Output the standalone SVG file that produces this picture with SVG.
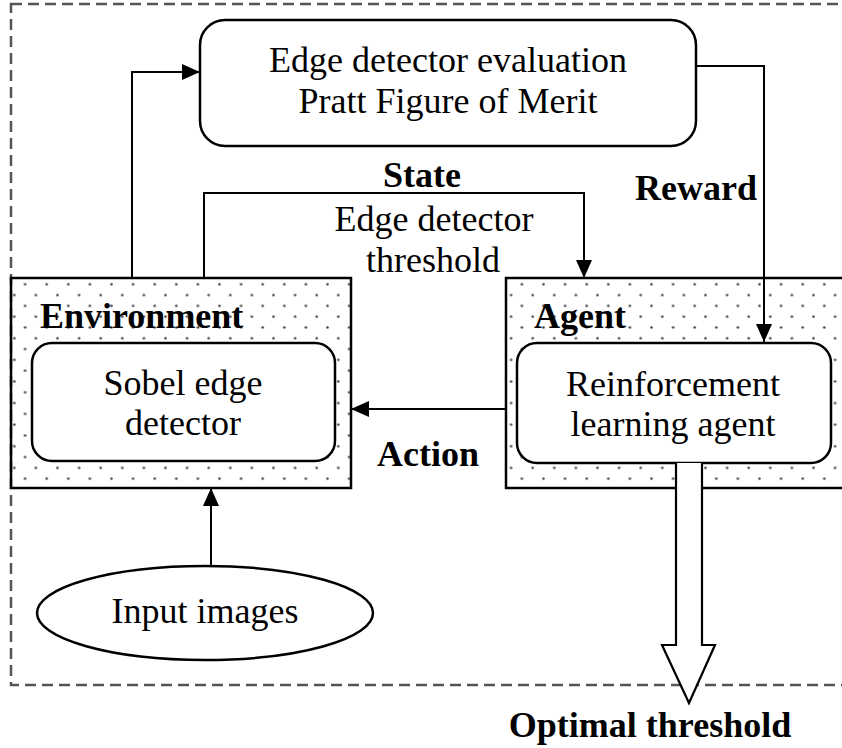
<svg xmlns="http://www.w3.org/2000/svg" width="842" height="748" viewBox="0 0 842 748">
<defs>
<pattern id="dots" patternUnits="userSpaceOnUse" width="21.6" height="21.6" x="2" y="2">
<circle cx="1.5" cy="1.5" r="1.3" fill="#444"/>
<circle cx="12.3" cy="12.3" r="1.3" fill="#444"/>
</pattern>
<marker id="ah" markerUnits="userSpaceOnUse" markerWidth="18" markerHeight="16" refX="18" refY="8" orient="auto">
<path d="M0,0 L18,8 L0,16 Z" fill="#000"/>
</marker>
<style>
.t{font-family:"Liberation Serif","Times New Roman",serif;fill:#000;text-anchor:middle;font-size:36px}
.b{font-weight:bold}
.box{fill:#fff;stroke:#000;stroke-width:2.5}
.cont{fill:url(#dots);stroke:#000;stroke-width:2.5}
.ln{fill:none;stroke:#000;stroke-width:2}
</style>
</defs>
<rect width="842" height="748" fill="#fff"/>
<rect id="frame" x="11" y="4" width="845" height="681" fill="none" stroke="#555" stroke-width="2.5" stroke-dasharray="11 6"/>

<g id="environment">
<rect class="cont" x="11" y="278" width="340" height="210"/>
<text class="t b" x="40" y="328" style="text-anchor:start">Environment</text>
</g>
<g id="sobel">
<rect class="box" x="32" y="343" width="303" height="118" rx="20"/>
<text class="t" x="183" y="395">Sobel edge</text>
<text class="t" x="183" y="435">detector</text>
</g>

<g id="agent">
<rect class="cont" x="506" y="278" width="345" height="210"/>
<text class="t b" x="534" y="328" style="text-anchor:start">Agent</text>
</g>
<g id="rl">
<rect class="box" x="517" y="343" width="314" height="120" rx="20"/>
<text class="t" x="673" y="396">Reinforcement</text>
<text class="t" x="673" y="436">learning agent</text>
</g>

<g id="evaluation">
<rect class="box" x="200" y="20" width="496" height="126" rx="25"/>
<text class="t" x="448" y="72">Edge detector evaluation</text>
<text class="t" x="448" y="113">Pratt Figure of Merit</text>
</g>

<g id="input">
<ellipse class="box" cx="205" cy="613" rx="168" ry="47"/>
<text class="t" x="205" y="623">Input images</text>
</g>

<g id="connectors">
<path class="ln" d="M132,278 V72 H200" marker-end="url(#ah)"/>
<path class="ln" d="M204,278 V193 H584 V278" marker-end="url(#ah)"/>
<path class="ln" d="M696,66 H764 V342" marker-end="url(#ah)"/>
<path class="ln" d="M506,409 H351" marker-end="url(#ah)"/>
<path class="ln" d="M211,566 V488" marker-end="url(#ah)"/>
<path id="output" d="M676,463 V645 H662 L689,703 L715,645 H702 V463" fill="#fff" stroke="#000" stroke-width="2.2"/>
</g>

<g id="labels">
<text class="t b" x="422" y="187">State</text>
<text class="t" x="434" y="231">Edge detector</text>
<text class="t" x="433" y="272">threshold</text>
<text class="t b" x="696" y="200">Reward</text>
<text class="t b" x="428" y="466">Action</text>
<text class="t b" x="650" y="737">Optimal threshold</text>
</g>
</svg>
